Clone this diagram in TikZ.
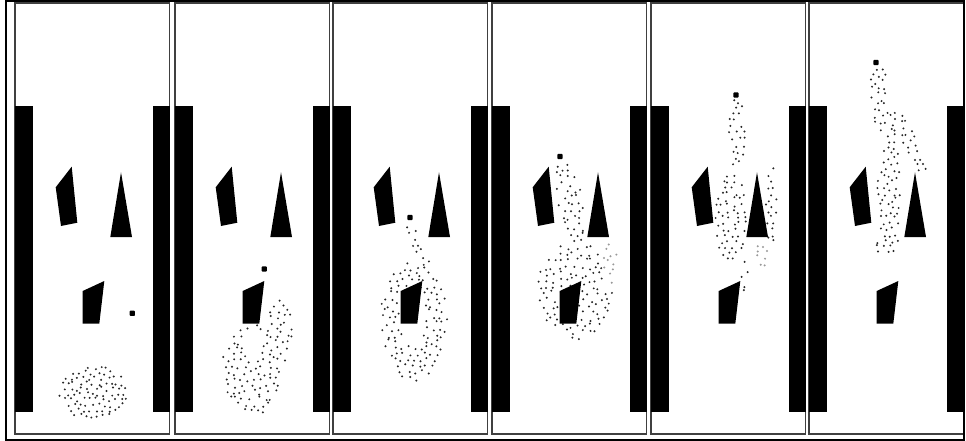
\documentclass[tikz,border=0pt]{standalone}
\usetikzlibrary{calc}
\tikzset{
  frame/.style={draw=black!75,line width=1.1pt},
  outer/.style={draw=black,line width=2pt},
  bar/.style={fill=black},
  obst/.style={fill=black},
  robot/.style={fill=black,rounded corners=0.8pt},
}
% membership tests (use current \cPx,\cPy)
\newcommand\inE[4]{((((\cPx)-(#1))/(#3))^2+(((\cPy)-(#2))/(#4))^2<=1)}
\newcommand\inR[5]{((((((\cPx)-(#1))*cos(#5)+((\cPy)-(#2))*sin(#5))/(#3))^2+(((0-((\cPx)-(#1))*sin(#5)+((\cPy)-(#2))*cos(#5))/(#4))^2)<=1)}
% jittered hex grid of particles over a box, kept where test holds
% #1 x1, #2 y1, #3 x2, #4 y2, #5 spacing, #6 colour, #7 test
\newcommand\pfield[7]{%
  \pgfmathtruncatemacro\cNi{(#3-#1)/#5}%
  \pgfmathtruncatemacro\cNj{(#4-#2)/(0.87*#5)}%
  \foreach \i in {0,...,\cNi}{%
    \foreach \j in {0,...,\cNj}{%
      \pgfmathsetmacro\cPx{#1+\i*#5+mod(\j,2)*#5/2+0.35*#5*rand}%
      \pgfmathsetmacro\cPy{#2+\j*0.87*#5+0.35*#5*rand}%
      \pgfmathtruncatemacro\cIn{#7}%
      \ifnum\cIn>0 \fill[#6] (\cPx,\cPy) circle (1.1pt);\fi
    }}}
\begin{document}
\begin{tikzpicture}[x=1pt,y=-1pt]
\useasboundingbox (0,0) rectangle (966,441);
\fill[white] (0,0) rectangle (966,441);
\pgfmathsetseed{11}
% panels
\foreach \xo in {15,175,333,492,651,809}{
  \begin{scope}[shift={(\xo,0)}]
    \draw[frame] (0,3) rectangle (154.5,434);
    \fill[bar] (0,106) rectangle (18,412);
    \fill[bar] (137.5,106) rectangle (154.5,412);
  \end{scope}
}
% particle clouds
% panel 1
\pfield{55}{362}{132}{426}{6.2}{black!85}{\inE{93}{393}{35}{28}}
% panel 2
\pfield{218}{292}{298}{422}{7.2}{black!85}{(\inE{279}{330}{14}{34} || \inE{252}{368}{30}{45} || \inE{259}{408}{8}{10}) && !\inE{254}{343}{9}{14}}
% panel 3
\pfield{376}{220}{452}{388}{7}{black!85}{(\inE{414}{322}{34}{60} && !\inE{412}{315}{13}{32}) || \inR{418}{246}{23}{6}{64}}
% panel 4
\pfield{533}{158}{620}{346}{7.4}{black!85}{\inR{570}{202}{42}{13}{78} || (\inE{575}{290}{38}{50} && !\inE{552}{340}{18}{14} && !\inE{610}{262}{9}{24})}
\pfield{600}{236}{620}{290}{7.5}{black!40}{\inE{610}{262}{7}{22}}
% panel 5
\pfield{708}{96}{785}{296}{7}{black!85}{\inE{737}{135}{8}{38} || \inE{731}{218}{17}{45} || \inE{746}{275}{5}{18} || \inE{771}{205}{7}{40}}
\pfield{752}{238}{775}{270}{7.5}{black!40}{\inE{763}{255}{8}{14}}
% panel 6
\pfield{866}{64}{935}{262}{6.8}{black!85}{\inE{879}{88}{9}{22} || \inR{894}{124}{25}{15}{40} || \inE{889}{195}{12}{62} || \inR{919}{160}{22}{7}{60} || \inE{886}{245}{13}{12}}
% obstacles
\foreach \xo in {15,175,333,492,651,809}{
  \begin{scope}[shift={(\xo,0)}]
    \fill[obst] (40.7,187.3) -- (56.7,166.7) -- (62.3,222.7) -- (46,226) -- cycle;
    \fill[obst] (106,172.3) -- (95.3,237) -- (117,237) -- cycle;
    \fill[obst] (67.7,291) -- (89.3,281) -- (84.3,323.7) -- (67.7,323.7) -- cycle;
  \end{scope}
}
% robots
\foreach \rx/\ry in {132.3/313.3, 264.3/269, 410/217.5, 560/156.5, 736/95, 876/62.5}{
  \fill[robot] (\rx-2.6,\ry-2.6) rectangle (\rx+2.6,\ry+2.6);
}
% outer border
\draw[outer] (5.5,1) rectangle (964,439.5);
\end{tikzpicture}
\end{document}
